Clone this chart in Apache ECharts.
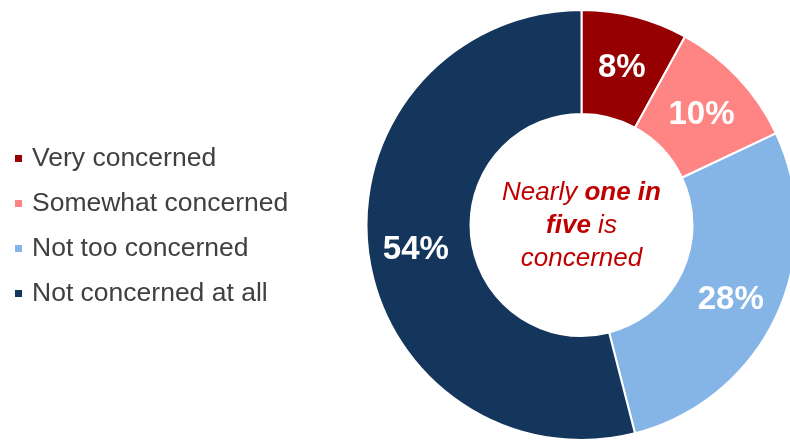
<!DOCTYPE html>
<html>
<head>
<meta charset="utf-8">
<script src="https://cdn.jsdelivr.net/npm/echarts@6/dist/echarts.min.js"></script>
<style>
html,body{margin:0;padding:0;background:#fff;}
#chart{width:790px;height:440px;}
</style>
</head>
<body>
<div id="chart"></div>
<script>
const categories = ['Very concerned', 'Somewhat concerned', 'Not too concerned', 'Not concerned at all'];
const values = [8, 10, 28, 54];
const colors = ['#960000', '#FF8585', '#85B5E6', '#14365C'];

const chart = echarts.init(document.getElementById('chart'));
const FONT = '"Liberation Sans", Arial, Helvetica, sans-serif';

chart.setOption({
  animation: false,
  backgroundColor: '#ffffff',
  legend: {
    orient: 'vertical',
    left: 13,
    top: 145,
    padding: 0,
    icon: 'rect',
    itemWidth: 9,
    itemHeight: 9,
    itemGap: 18,
    data: categories,
    textStyle: {
      color: '#404040',
      fontSize: 26.5,
      lineHeight: 26,
      fontFamily: FONT,
      padding: [0, 0, 0, 4]
    }
  },
  graphic: [{
    type: 'text',
    x: 581.5,
    y: 226,
    z: 100,
    style: {
      text: '{i|Nearly }{b|one in}\n{b|five}{i| is}\n{i|concerned}',
      align: 'center',
      verticalAlign: 'middle',
      fill: '#C00000',
      rich: {
        i: { fontSize: 26, fontStyle: 'italic', fontFamily: FONT, fill: '#C00000', lineHeight: 33 },
        b: { fontSize: 26, fontStyle: 'italic', fontWeight: 'bold', fontFamily: FONT, fill: '#C00000', lineHeight: 33 }
      }
    }
  }],
  series: [{
    type: 'pie',
    center: [581.5, 225],
    radius: [111, 215],
    startAngle: 90,
    clockwise: true,
    avoidLabelOverlap: false,
    itemStyle: { borderColor: '#ffffff', borderWidth: 2 },
    label: {
      show: true,
      position: 'inside',
      formatter: '{c}%',
      color: '#ffffff',
      fontSize: 33,
      fontWeight: 'bold',
      fontFamily: FONT,
      offset: [-1, 4]
    },
    labelLine: { show: false },
    emphasis: { disabled: true },
    data: categories.map((name, i) => ({
      name: name,
      value: values[i],
      itemStyle: { color: colors[i] }
    }))
  }]
});
</script>
</body>
</html>
